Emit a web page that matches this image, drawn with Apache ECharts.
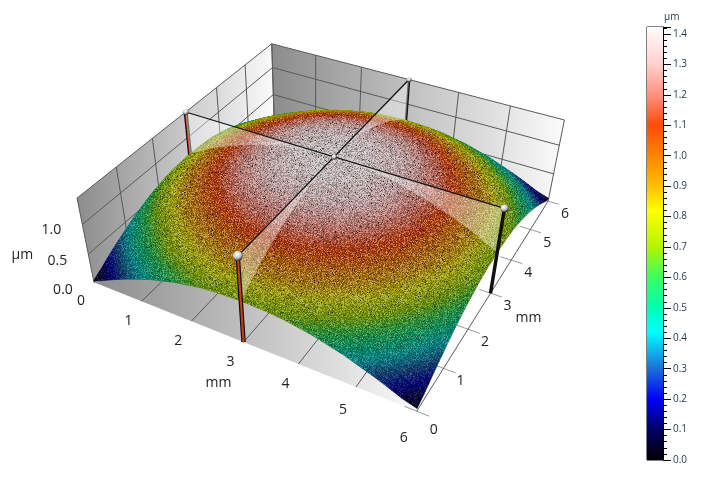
<!DOCTYPE html>
<html>
<head>
<meta charset="utf-8">
<style>html,body{margin:0;padding:0;background:#fff}#main{width:714px;height:486px}</style>
<script src="https://cdn.jsdelivr.net/npm/echarts@6/dist/echarts.min.js"></script>
</head>
<body>
<div id="main"></div>
<script>
// surface height in um, every 0.25 mm, rows are y = 0..6, columns x = 0..6
var heights = [
[.03,.12,.22,.31,.39,.47,.53,.59,.63,.67,.69,.70,.71,.70,.69,.67,.63,.59,.53,.47,.39,.31,.22,.12,.05],
[.12,.22,.33,.42,.50,.58,.64,.70,.74,.78,.80,.81,.82,.81,.80,.78,.74,.70,.64,.58,.50,.42,.33,.22,.12],
[.22,.33,.44,.53,.61,.69,.75,.81,.85,.89,.91,.92,.93,.92,.91,.89,.85,.81,.75,.69,.61,.53,.44,.33,.22],
[.31,.42,.53,.62,.70,.78,.84,.90,.94,.98,1.00,1.01,1.02,1.01,1.00,.98,.94,.90,.84,.78,.70,.62,.53,.42,.31],
[.39,.50,.61,.70,.78,.86,.92,.98,1.02,1.06,1.08,1.09,1.10,1.09,1.08,1.06,1.02,.98,.92,.86,.78,.70,.61,.50,.39],
[.47,.58,.69,.78,.86,.94,1.00,1.06,1.10,1.14,1.16,1.17,1.18,1.17,1.16,1.14,1.10,1.06,1.00,.94,.86,.78,.69,.58,.47],
[.53,.64,.75,.84,.92,1.00,1.06,1.12,1.16,1.20,1.22,1.23,1.24,1.23,1.22,1.20,1.16,1.12,1.06,1.00,.92,.84,.75,.64,.53],
[.59,.70,.81,.90,.98,1.06,1.12,1.18,1.22,1.26,1.28,1.29,1.30,1.29,1.28,1.26,1.22,1.18,1.12,1.06,.98,.90,.81,.70,.59],
[.63,.74,.85,.94,1.02,1.10,1.16,1.22,1.26,1.30,1.32,1.33,1.34,1.33,1.32,1.30,1.26,1.22,1.16,1.10,1.02,.94,.85,.74,.63],
[.67,.78,.89,.98,1.06,1.14,1.20,1.26,1.30,1.34,1.36,1.37,1.38,1.37,1.36,1.34,1.30,1.26,1.20,1.14,1.06,.98,.89,.78,.67],
[.69,.80,.91,1.00,1.08,1.16,1.22,1.28,1.32,1.36,1.38,1.39,1.40,1.39,1.38,1.36,1.32,1.28,1.22,1.16,1.08,1.00,.91,.80,.69],
[.70,.81,.92,1.01,1.09,1.17,1.23,1.29,1.33,1.37,1.39,1.40,1.41,1.40,1.39,1.37,1.33,1.29,1.23,1.17,1.09,1.01,.92,.81,.70],
[.71,.82,.93,1.02,1.10,1.18,1.24,1.30,1.34,1.38,1.40,1.41,1.42,1.41,1.40,1.38,1.34,1.30,1.24,1.18,1.10,1.02,.93,.82,.71],
[.70,.81,.92,1.01,1.09,1.17,1.23,1.29,1.33,1.37,1.39,1.40,1.41,1.40,1.39,1.37,1.33,1.29,1.23,1.17,1.09,1.01,.92,.81,.70],
[.69,.80,.91,1.00,1.08,1.16,1.22,1.28,1.32,1.36,1.38,1.39,1.40,1.39,1.38,1.36,1.32,1.28,1.22,1.16,1.08,1.00,.91,.80,.69],
[.67,.78,.89,.98,1.06,1.14,1.20,1.26,1.30,1.34,1.36,1.37,1.38,1.37,1.36,1.34,1.30,1.26,1.20,1.14,1.06,.98,.89,.78,.67],
[.63,.74,.85,.94,1.02,1.10,1.16,1.22,1.26,1.30,1.32,1.33,1.34,1.33,1.32,1.30,1.26,1.22,1.16,1.10,1.02,.94,.85,.74,.63],
[.59,.70,.81,.90,.98,1.06,1.12,1.18,1.22,1.26,1.28,1.29,1.30,1.29,1.28,1.26,1.22,1.18,1.12,1.06,.98,.90,.81,.70,.59],
[.53,.64,.75,.84,.92,1.00,1.06,1.12,1.16,1.20,1.22,1.23,1.24,1.23,1.22,1.20,1.16,1.12,1.06,1.00,.92,.84,.75,.64,.53],
[.47,.58,.69,.78,.86,.94,1.00,1.06,1.10,1.14,1.16,1.17,1.18,1.17,1.16,1.14,1.10,1.06,1.00,.94,.86,.78,.69,.58,.47],
[.39,.50,.61,.70,.78,.86,.92,.98,1.02,1.06,1.08,1.09,1.10,1.09,1.08,1.06,1.02,.98,.92,.86,.78,.70,.61,.50,.39],
[.31,.42,.53,.62,.70,.78,.84,.90,.94,.98,1.00,1.01,1.02,1.01,1.00,.98,.94,.90,.84,.78,.70,.62,.53,.42,.31],
[.22,.33,.44,.53,.61,.69,.75,.81,.85,.89,.91,.92,.93,.92,.91,.89,.85,.81,.75,.69,.61,.53,.44,.33,.22],
[.12,.22,.33,.42,.50,.58,.64,.70,.74,.78,.80,.81,.82,.81,.80,.78,.74,.70,.64,.58,.50,.42,.33,.22,.12],
[.03,.12,.22,.31,.39,.47,.53,.59,.63,.67,.69,.70,.71,.70,.69,.67,.63,.59,.53,.47,.39,.31,.22,.12,.05]
];
var gridStep = 0.25;
var mmTicks = [0, 1, 2, 3, 4, 5, 6];
var umTicks = [0, 0.5, 1];
var zTop = 1.423;
var colorLevels = [0, 0.1, 0.2, 0.3, 0.42, 0.5, 0.6, 0.7, 0.82, 0.9, 1.0, 1.1, 1.2, 1.3, 1.42];
var colorStops = ['#000000', '#000068', '#0000ff', '#1a70d8', '#00ffff', '#00ffb4', '#38ff60', '#b4f500', '#ffff00', '#ffc000', '#ff8400', '#ff4a08', '#ff9080', '#ffd0d0', '#fffafa'];
// pillars stand on the cross hair ends: x, y, colour, width
var pillars = [
  {x: 0, y: 3, color: '#c8401a', width: 3, r: 3},
  {x: 3, y: 6, color: '#151515', width: 2.5, r: 2.5},
  {x: 6, y: 3, color: '#000000', width: 3.5, r: 4},
  {x: 3, y: 0, color: '#c8401a', width: 3.5, r: 5}
];

// camera: fitted to the box corners [x, y, z, screenX, screenY]
var cameraPoints = [
  [0, 0, 0, 94, 282], [6, 0, 0, 418, 409], [6, 6, 0, 548, 200], [3, 0, 0, 243, 344], [6, 3, 0, 490, 295],
  [0, 0, zTop, 77, 197], [6, 6, zTop, 565, 119], [0, 6, zTop, 273, 44],
  [3, 0, zTop, 238, 256], [6, 3, zTop, 504, 210], [3, 6, zTop, 408, 80], [0, 3, zTop, 185, 112]
];

function solve(A, b) {
  var n = b.length;
  for (var i = 0; i < n; i++) {
    var p = i;
    for (var r = i + 1; r < n; r++) if (Math.abs(A[r][i]) > Math.abs(A[p][i])) p = r;
    var t = A[i]; A[i] = A[p]; A[p] = t;
    t = b[i]; b[i] = b[p]; b[p] = t;
    for (r = i + 1; r < n; r++) {
      var f = A[r][i] / A[i][i];
      for (var c = i; c < n; c++) A[r][c] -= f * A[i][c];
      b[r] -= f * b[i];
    }
  }
  var x = [];
  for (i = n - 1; i >= 0; i--) {
    var s = b[i];
    for (c = i + 1; c < n; c++) s -= A[i][c] * x[c];
    x[i] = s / A[i][i];
  }
  return x;
}

function fitCamera(points) {
  var N = [], B = [], i;
  for (i = 0; i < 11; i++) { N.push(new Array(11).fill(0)); B.push(0); }
  function add(row, v) {
    for (var a = 0; a < 11; a++) {
      B[a] += row[a] * v;
      for (var b = 0; b < 11; b++) N[a][b] += row[a] * row[b];
    }
  }
  points.forEach(function (q) {
    add([q[0], q[1], q[2], 1, 0, 0, 0, 0, -q[3] * q[0], -q[3] * q[1], -q[3] * q[2]], q[3]);
    add([0, 0, 0, 0, q[0], q[1], q[2], 1, -q[4] * q[0], -q[4] * q[1], -q[4] * q[2]], q[4]);
  });
  return solve(N, B);
}
var cam = fitCamera(cameraPoints);

function project(x, y, z) {
  var w = cam[8] * x + cam[9] * y + cam[10] * z + 1;
  return [(cam[0] * x + cam[1] * y + cam[2] * z + cam[3]) / w, (cam[4] * x + cam[5] * y + cam[6] * z + cam[7]) / w];
}

function colorAt(z) {
  var k = 0;
  while (k < colorLevels.length - 2 && z > colorLevels[k + 1]) k++;
  var t = Math.max(0, Math.min(1, (z - colorLevels[k]) / (colorLevels[k + 1] - colorLevels[k])));
  return echarts.color.lerp(t, [colorStops[k], colorStops[k + 1]]);
}

// speckle tile, the measured surface is grainy
function makeGrain() {
  var size = 256, cv = document.createElement('canvas');
  cv.width = cv.height = size;
  var g = cv.getContext('2d'), im = g.createImageData(size, size), s = 12345;
  function next() {
    s = (Math.imul(s, 1664525) + 1013904223) >>> 0;
    return (s >>> 16) / 65536;
  }
  for (var i = 0; i < size * size; i++) {
    var a = next(), b = next(), v = 0, al = b * 0.35;
    if (a > 0.6) { v = 255; al = b * 0.42; }
    if (a < 0.03) al = 0.65;
    im.data[i * 4] = im.data[i * 4 + 1] = im.data[i * 4 + 2] = v;
    im.data[i * 4 + 3] = al * 255;
  }
  g.putImageData(im, 0, 0);
  return cv;
}
var grain = {image: makeGrain(), repeat: 'repeat'};

function poly(api, pts, style) {
  return {type: 'polygon', shape: {points: pts.map(function (p) { return api.coord(p); })}, style: style};
}
function seg(api, a, b, stroke, width) {
  var p = api.coord(a), q = api.coord(b);
  return {type: 'line', shape: {x1: p[0], y1: p[1], x2: q[0], y2: q[1]}, style: {stroke: stroke, lineWidth: width, fill: null}};
}
function grey(from, to, end) {
  return new echarts.graphic.LinearGradient(0, 0, 1, 0, [{offset: 0, color: from}, {offset: end, color: to}, {offset: 1, color: to}]);
}

function renderBox(params, api) {
  var line = '#5a5a5a', kids = [];
  kids.push(poly(api, [project(0, 0, 0), project(0, 6, 0), project(0, 6, zTop), project(0, 0, zTop)], {fill: grey('#8c8c8c', '#fbfbfb', 1)}));
  kids.push(poly(api, [project(0, 6, 0), project(6, 6, 0), project(6, 6, zTop), project(0, 6, zTop)], {fill: grey('#8c8c8c', '#fbfbfb', 1)}));
  kids.push(poly(api, [project(0, 0, 0), project(6, 0, 0), project(6, 6, 0), project(0, 6, 0)], {fill: grey('#8c8c8c', '#ffffff', 0.75)}));
  mmTicks.forEach(function (t) {
    kids.push(seg(api, project(t, 0, 0), project(t, 6, 0), line, 1));
    kids.push(seg(api, project(5.8, t, 0), project(6.2, t, 0), '#999', 1));
    kids.push(seg(api, project(0, t, 0), project(0, t, zTop), line, 1));
    kids.push(seg(api, project(t, 6, 0), project(t, 6, zTop), line, 1));
  });
  umTicks.concat([zTop]).forEach(function (z) {
    kids.push(seg(api, project(0, 0, z), project(0, 6, z), line, 1));
    kids.push(seg(api, project(0, 6, z), project(6, 6, z), line, 1));
  });
  return {type: 'group', children: kids};
}

function pillarItem(api, p) {
  var red = p.color === '#c8401a';
  var kids = [seg(api, project(p.x, p.y, 0), project(p.x, p.y, zTop), '#111', p.width + (red ? 1 : 0))];
  if (red) kids.push(seg(api, project(p.x, p.y, 0), project(p.x, p.y, zTop), p.color, p.width - 1.5));
  return {type: 'group', children: kids};
}

var facets = 3;
function renderCell(params, api) {
  var i = api.value(0), j = api.value(1), kids = [];
  var z00 = heights[j][i], z10 = heights[j][i + 1], z01 = heights[j + 1][i], z11 = heights[j + 1][i + 1];
  function at(u, v) {
    return (1 - u) * (1 - v) * z00 + u * (1 - v) * z10 + (1 - u) * v * z01 + u * v * z11;
  }
  function pt(u, v) {
    return project((i + u) * gridStep, (j + v) * gridStep, at(u, v));
  }
  for (var a = 0; a < facets; a++) {
    for (var b = facets - 1; b >= 0; b--) {
      var u0 = a / facets, u1 = (a + 1) / facets, v0 = b / facets, v1 = (b + 1) / facets;
      var z = at((u0 + u1) / 2, (v0 + v1) / 2);
      // the low, steep rim is lit less than the top of the dome
      var c = echarts.color.lerp(Math.min(1, 0.4 + 0.28 * z), ['#000000', colorAt(z)]);
      kids.push(poly(api, [pt(u0, v0), pt(u1, v0), pt(u1, v1), pt(u0, v1)], {fill: c, stroke: c, lineWidth: 0.7}));
    }
  }
  kids.push(poly(api, [pt(0, 0), pt(1, 0), pt(1, 1), pt(0, 1)], {fill: grain, opacity: Math.min(1, 0.25 + 0.85 * at(0.5, 0.5))}));
  return {type: 'group', children: kids};
}

function renderCurtains(params, api) {
  var a = [], b = [];
  heights[12].forEach(function (z, i) { a.push(project(i * gridStep, 3, z)); });
  heights.forEach(function (row, j) { b.push(project(3, j * gridStep, row[12])); });
  a.push(project(6, 3, zTop), project(0, 3, zTop));
  b.push(project(3, 6, zTop), project(3, 0, zTop));
  return {type: 'group', children: [
    poly(api, a, {fill: 'rgba(255,255,255,0.38)'}),
    poly(api, b, {fill: 'rgba(255,255,255,0.38)'}),
    seg(api, project(0, 3, zTop), project(6, 3, zTop), '#111', 1.3),
    seg(api, project(3, 0, zTop), project(3, 6, zTop), '#111', 1.3)
  ]};
}

function ball(api, x, y, r) {
  var c = api.coord(project(x, y, zTop));
  return {type: 'circle', shape: {cx: c[0], cy: c[1], r: r}, style: {
    fill: new echarts.graphic.RadialGradient(0.42, 0.3, 0.75, [{offset: 0, color: '#ffffff'}, {offset: 0.5, color: '#c8c8c8'}, {offset: 1, color: '#0a0a0a'}])
  }};
}

function renderFront(params, api) {
  var kids = [pillarItem(api, pillars[2]), pillarItem(api, pillars[3])];
  pillars.forEach(function (p) { kids.push(ball(api, p.x, p.y, p.r)); });
  kids.push(ball(api, 3, 3, 2.5));
  return {type: 'group', children: kids};
}

function label(api, p, dx, dy, text) {
  var c = api.coord(p);
  return {type: 'text', style: {x: c[0] + dx, y: c[1] + dy, text: text, fill: '#222', font: '14px "Open Sans", "Noto Sans", sans-serif', align: 'center', verticalAlign: 'middle'}};
}

function renderLabels(params, api) {
  var kids = [];
  mmTicks.forEach(function (t) {
    kids.push(label(api, project(t, 0, 0), -13, 19 + t * 0.3 + (t > 4 ? (t - 4) * 3 : 0), String(t)));
    kids.push(label(api, project(6, t, 0), 17, t === 0 ? 19 : 13, String(t)));
  });
  umTicks.forEach(function (z) {
    kids.push(label(api, project(0, 0, z), -31, 8 - 2 * z, z.toFixed(1)));
  });
  kids.push(label(api, project(3, 0, 0), -25, 41, 'mm'));
  kids.push(label(api, project(6, 3, 0), 38, 25, 'mm'));
  kids.push(label(api, project(0, 0, 0.5), -66, 1, 'µm'));
  return {type: 'group', children: kids};
}

var cells = [];
for (var ci = 0; ci < heights[0].length - 1; ci++) {
  for (var cj = heights.length - 2; cj >= 0; cj--) cells.push([ci, cj]);
}

function layer(fn, z) {
  return {type: 'custom', coordinateSystem: 'cartesian2d', xAxisIndex: 0, yAxisIndex: 0, silent: true, animation: false, z: z, data: [[0, 0]], renderItem: fn};
}

var barStops = colorLevels.map(function (l, k) { return {offset: 1 - l / zTop, color: colorStops[k]}; }).reverse();
barStops.unshift({offset: 0, color: '#ffffff'});

var myChart = echarts.init(document.getElementById('main'));
var option = {
  animation: false,
  grid: [
    {left: 0, top: 0, width: 714, height: 486},
    {left: 647, top: 27, width: 16, height: 433, show: true, borderColor: '#000', borderWidth: 1}
  ],
  xAxis: [
    {type: 'value', gridIndex: 0, min: 0, max: 714, show: false},
    {type: 'category', gridIndex: 1, data: ['scale'], show: false}
  ],
  yAxis: [
    {type: 'value', gridIndex: 0, min: 0, max: 486, inverse: true, show: false},
    {
      type: 'value', gridIndex: 1, position: 'right', min: 0, max: zTop, interval: 0.1,
      name: 'µm', nameLocation: 'end', nameGap: 5,
      nameTextStyle: {color: '#1f3550', fontSize: 10, align: 'left', padding: [0, 0, 0, 1], fontFamily: 'Open Sans'},
      axisLine: {show: true, lineStyle: {color: '#000'}},
      axisTick: {show: true, length: 8, lineStyle: {color: '#000'}},
      minorTick: {show: true, splitNumber: 5, length: 4, lineStyle: {color: '#000'}},
      splitLine: {show: false},
      axisLabel: {
        color: '#1f3550', fontSize: 10, fontFamily: 'Open Sans', margin: 10,
        formatter: function (v) { return v > 1.41 ? '' : v.toFixed(1); }
      }
    }
  ],
  series: [
    layer(renderBox, 1),
    {type: 'custom', xAxisIndex: 0, yAxisIndex: 0, silent: true, z: 2, data: [[0, 0]], renderItem: function (p, api) { return {type: 'group', children: [pillarItem(api, pillars[0]), pillarItem(api, pillars[1])]}; }},
    {type: 'custom', xAxisIndex: 0, yAxisIndex: 0, silent: true, z: 3, data: cells, renderItem: renderCell},
    layer(renderCurtains, 4),
    layer(renderFront, 5),
    layer(renderLabels, 6),
    {
      type: 'bar', xAxisIndex: 1, yAxisIndex: 1, barWidth: '100%', silent: true, z: 4, data: [zTop],
      itemStyle: {color: new echarts.graphic.LinearGradient(0, 0, 0, 1, barStops)}
    }
  ]
};
myChart.setOption(option);
</script>
</body>
</html>
